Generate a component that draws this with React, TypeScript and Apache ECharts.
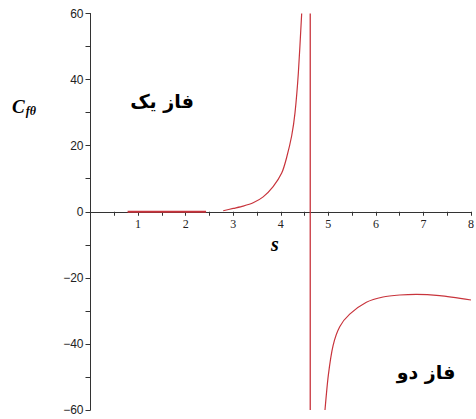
import React, { useEffect, useRef } from "react";
import * as echarts from "echarts";

const phaseOneFlat: [number, number][] = [[0.78, 0], [2.43, 0]];
const phaseOne: [number, number][] = [
  [2.79, 0.3], [3.0, 1.0], [3.21, 1.7], [3.42, 2.7], [3.63, 4.5], [3.84, 7.6],
  [4.02, 11.7], [4.12, 16.2], [4.23, 23.0], [4.3, 30], [4.37, 42], [4.44, 60],
];
const phaseTwo: [number, number][] = [
  [4.93, -60], [5.0, -49.5], [5.1, -40.5], [5.24, -34.8], [5.45, -31.0], [5.8, -27.4],
  [6.15, -25.8], [6.5, -25.2], [6.85, -25.0], [7.34, -25.4], [8.0, -26.7],
];
const asymptote: [number, number][] = [[4.62, 60], [4.62, -60]];

const yTickLabels = [-60, -40, -20, 0, 20, 40, 60];
const xTickLabels = [1, 2, 3, 4, 5, 6, 7, 8];

const LINE = "#c8343c";
const TOP = 13.5;
const BOTTOM = 9;
const H = 419;

export default function App() {
  const ref = useRef<HTMLDivElement>(null);
  useEffect(() => {
    if (!ref.current) return;
    const chart = echarts.init(ref.current, undefined, { renderer: "svg" });
    const lineSeries = (data: [number, number][], width = 1.2, smooth: number | boolean = 0.25) => ({
      type: "line",
      data,
      showSymbol: false,
      smooth,
      lineStyle: { color: LINE, width },
      itemStyle: { color: LINE },
    });
    const gridHeight = H - TOP - BOTTOM;
    chart.setOption({
      animation: false,
      backgroundColor: "#fff",
      grid: { left: 90.5, right: 5, top: TOP, bottom: BOTTOM, containLabel: false, outerBoundsMode: "none" },
      xAxis: {
        type: "value",
        min: 0,
        max: 8,
        interval: 0.5,
        position: "bottom",
        offset: -gridHeight / 2,
        axisLine: { onZero: false, lineStyle: { color: "#333", width: 1 } },
        axisTick: { show: true, length: 4, lineStyle: { color: "#333" } },
        splitLine: { show: false },
        axisLabel: {
          margin: 6,
          fontFamily: "Liberation Serif",
          fontSize: 12,
          color: "#222",
          formatter: (v: number) => (xTickLabels.includes(v) ? String(v) : ""),
        },
      },
      yAxis: {
        type: "value",
        min: -60,
        max: 60,
        interval: 10,
        axisLine: { show: true, onZero: false, lineStyle: { color: "#333", width: 1 } },
        axisTick: { show: true, length: 5, lineStyle: { color: "#333" } },
        splitLine: { show: false },
        axisLabel: {
          margin: 7,
          fontFamily: "Liberation Sans",
          fontSize: 12,
          color: "#222",
          formatter: (v: number) => (yTickLabels.includes(v) ? (v < 0 ? "\u2212" + Math.abs(v) : String(v)) : ""),
        },
      },
      series: [
        lineSeries(phaseOneFlat, 2, false),
        lineSeries(phaseOne),
        lineSeries(phaseTwo),
        lineSeries(asymptote, 1.3, false),
      ],
      graphic: [
        {
          type: "text",
          left: 12,
          top: 97,
          style: {
            text: "{c|C}{s|fθ}",
            rich: {
              c: { fontFamily: "Liberation Serif", fontStyle: "italic", fontWeight: "bold", fontSize: 19, fill: "#000" },
              s: { fontFamily: "Liberation Serif", fontStyle: "italic", fontWeight: "bold", fontSize: 12, fill: "#000", verticalAlign: "bottom", padding: [9, 0, 0, 1] },
            },
          },
        },
        {
          type: "text",
          x: 162,
          y: 101,
          style: {
            text: "فاز یک",
            fontFamily: "DejaVu Sans",
            fontWeight: "bold",
            fontSize: 19,
            fill: "#000",
            align: "center",
            verticalAlign: "middle",
          },
        },
        {
          type: "text",
          x: 426,
          y: 372,
          style: {
            text: "فاز دو",
            fontFamily: "DejaVu Sans",
            fontWeight: "bold",
            fontSize: 19,
            fill: "#000",
            align: "center",
            verticalAlign: "middle",
          },
        },
        {
          type: "text",
          x: 275,
          y: 244,
          style: {
            text: "s",
            fontFamily: "Liberation Serif",
            fontStyle: "italic",
            fontWeight: "bold",
            fontSize: 20,
            fill: "#000",
            align: "center",
            verticalAlign: "middle",
          },
        },
      ],
    });
    return () => chart.dispose();
  }, []);
  return <div ref={ref} style={{ width: 476, height: 419, position: "absolute", left: 0, top: 0 }} />;
}
